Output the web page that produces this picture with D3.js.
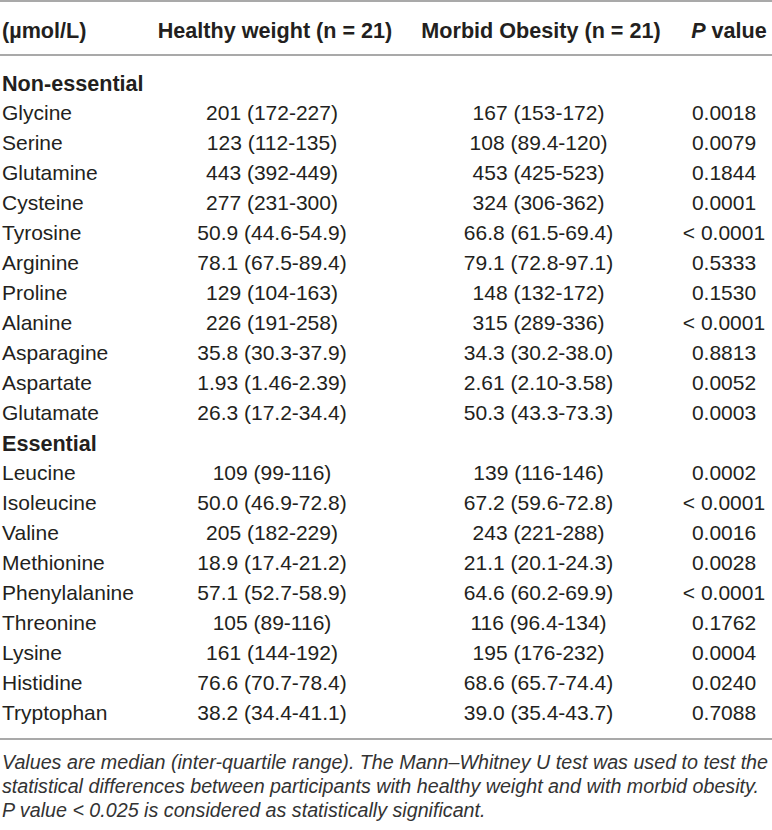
<!DOCTYPE html>
<html>
<head>
<meta charset="utf-8">
<script src="https://cdn.jsdelivr.net/npm/d3@7"></script>
<style>
  body { margin: 0; background: #fff; }
  svg { display: block; }
  text { font-family: "Liberation Sans", Arial, sans-serif; fill: #231f20; }
</style>
</head>
<body>
<svg width="772" height="830"></svg>
<script>
const headers = ["(µmol/L)", "Healthy weight (n = 21)", "Morbid Obesity (n = 21)", "P value"]

const groups = ["Non-essential", "Essential"]

const nonEssential = ["Glycine", "Serine", "Glutamine", "Cysteine", "Tyrosine", "Arginine", "Proline", "Alanine", "Asparagine", "Aspartate", "Glutamate"]
const nonEssentialHealthy = ["201 (172-227)", "123 (112-135)", "443 (392-449)", "277 (231-300)", "50.9 (44.6-54.9)", "78.1 (67.5-89.4)", "129 (104-163)", "226 (191-258)", "35.8 (30.3-37.9)", "1.93 (1.46-2.39)", "26.3 (17.2-34.4)"]
const nonEssentialObese = ["167 (153-172)", "108 (89.4-120)", "453 (425-523)", "324 (306-362)", "66.8 (61.5-69.4)", "79.1 (72.8-97.1)", "148 (132-172)", "315 (289-336)", "34.3 (30.2-38.0)", "2.61 (2.10-3.58)", "50.3 (43.3-73.3)"]
const nonEssentialP = ["0.0018", "0.0079", "0.1844", "0.0001", "< 0.0001", "0.5333", "0.1530", "< 0.0001", "0.8813", "0.0052", "0.0003"]

const essential = ["Leucine", "Isoleucine", "Valine", "Methionine", "Phenylalanine", "Threonine", "Lysine", "Histidine", "Tryptophan"]
const essentialHealthy = ["109 (99-116)", "50.0 (46.9-72.8)", "205 (182-229)", "18.9 (17.4-21.2)", "57.1 (52.7-58.9)", "105 (89-116)", "161 (144-192)", "76.6 (70.7-78.4)", "38.2 (34.4-41.1)"]
const essentialObese = ["139 (116-146)", "67.2 (59.6-72.8)", "243 (221-288)", "21.1 (20.1-24.3)", "64.6 (60.2-69.9)", "116 (96.4-134)", "195 (176-232)", "68.6 (65.7-74.4)", "39.0 (35.4-43.7)"]
const essentialP = ["0.0002", "< 0.0001", "0.0016", "0.0028", "< 0.0001", "0.1762", "0.0004", "0.0240", "0.7088"]

const footnote = [
    "Values are median (inter-quartile range). The Mann–Whitney U test was used to test the",
    "statistical differences between participants with healthy weight and with morbid obesity.",
    "P value < 0.025 is considered as statistically significant."
]

// build the row list: group title rows followed by their amino acids
const rows = []
rows.push({ type: "group", name: groups[0] })
nonEssential.forEach((n, i) => rows.push({ type: "row", name: n, cells: [nonEssentialHealthy[i], nonEssentialObese[i], nonEssentialP[i]] }))
rows.push({ type: "group", name: groups[1] })
essential.forEach((n, i) => rows.push({ type: "row", name: n, cells: [essentialHealthy[i], essentialObese[i], essentialP[i]] }))

const svg = d3.select("svg")

const y = d3.scalePoint()
    .domain(d3.range(rows.length))
    .range([83, 713])

const headerX = d3.scaleOrdinal().domain([0, 1, 2, 3]).range([2, 275, 541, 729])
const cellX = d3.scaleOrdinal().domain([0, 1, 2]).range([272, 538.5, 724])

const fontSize = 21

// rules
const rules = [1, 55, 739]
svg.selectAll("line.rule")
    .data(rules)
    .enter()
    .append("line")
    .attr("class", "rule")
    .attr("x1", 0)
    .attr("x2", 772)
    .attr("y1", d => d)
    .attr("y2", d => d)
    .attr("stroke", "#8c8c8c")
    .attr("stroke-width", 1.5)

// header
svg.selectAll("text.header")
    .data(headers)
    .enter()
    .append("text")
    .attr("class", "header")
    .attr("x", (d, i) => headerX(i))
    .attr("y", 30)
    .attr("dy", "0.35em")
    .attr("text-anchor", (d, i) => i == 0 ? "start" : "middle")
    .style("font-size", "21.6px")
    .style("font-weight", "bold")
    .each(function (d) {
        const t = d3.select(this)
        if (d.startsWith("P ")) {
            t.append("tspan").style("font-style", "italic").text("P")
            t.append("tspan").text(d.slice(1))
        } else {
            t.text(d)
        }
    })

// body rows
const rowGroups = svg.selectAll("g.row")
    .data(rows)
    .enter()
    .append("g")
    .attr("class", "row")
    .attr("transform", (d, i) => `translate(0,${y(i)})`)

rowGroups.append("text")
    .attr("x", 2)
    .attr("dy", "0.35em")
    .style("font-size", d => d.type == "group" ? "21.6px" : fontSize + "px")
    .style("font-weight", d => d.type == "group" ? "bold" : "normal")
    .text(d => d.name)

rowGroups.filter(d => d.type == "row")
    .selectAll("text.cell")
    .data(d => d.cells)
    .enter()
    .append("text")
    .attr("class", "cell")
    .attr("x", (d, i) => cellX(i))
    .attr("dy", "0.35em")
    .attr("text-anchor", "middle")
    .style("font-size", fontSize + "px")
    .text(d => d)

// footnote
svg.selectAll("text.note")
    .data(footnote)
    .enter()
    .append("text")
    .attr("class", "note")
    .attr("x", 2)
    .attr("y", (d, i) => 762 + i * 24)
    .attr("dy", "0.35em")
    .style("font-size", "19.7px")
    .style("font-style", "italic")
    .style("fill", "#333")
    .text(d => d)
</script>
</body>
</html>
